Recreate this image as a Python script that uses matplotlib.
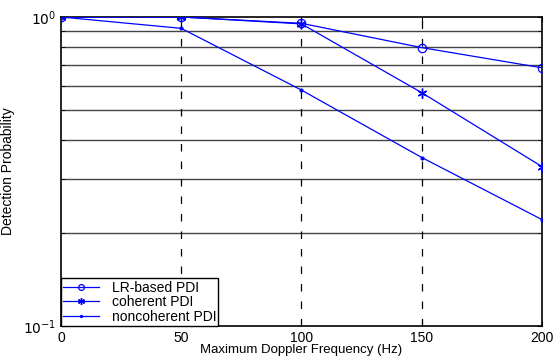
import matplotlib.pyplot as plt
import numpy as np

doppler = [0, 50, 100, 150, 200]
lr_pdi = [1.0, 1.0, 0.954, 0.796, 0.685]
coherent_pdi = [1.0, 1.0, 0.950, 0.569, 0.328]
noncoherent_pdi = [1.0, 0.919, 0.580, 0.351, 0.221]

plt.rcParams['font.family'] = ['Liberation Sans', 'DejaVu Sans']
plt.rcParams['font.size'] = 9

fig = plt.figure(figsize=(5.56, 3.58), dpi=100)
ax = fig.add_axes([0.1097, 0.0894, 0.8651, 0.8631])

# grid: solid horizontal lines at minor decades, dashed verticals
for v in np.arange(0.2, 1.0, 0.1):
    ax.axhline(v, color='#444444', lw=1.0, zorder=1)
for xv in [50, 100, 150]:
    ax.axvline(xv, color='black', lw=0.9, ls=(0, (6, 8)), zorder=1)

asterisk = (6, 2, 0)
ax.plot(doppler, lr_pdi, color='blue', lw=0.9, marker='o', ms=6,
        mfc='none', mew=0.9, label='LR-based PDI', zorder=3)
ax.plot(doppler, coherent_pdi, color='blue', lw=0.9, marker=asterisk, ms=7,
        mew=1.0, label='coherent PDI', zorder=3)
ax.plot(doppler, noncoherent_pdi, color='blue', lw=0.9, marker='.', ms=4,
        label='noncoherent PDI', zorder=3)

ax.set_yscale('log')
ax.set_xlim(0, 200)
ax.set_ylim(0.1, 1.0)
ax.set_xticks([0, 50, 100, 150, 200])
ax.set_yticks([0.1, 1.0])
ax.set_yticklabels(['$10^{-1}$', '$10^{0}$'])
ax.tick_params(which='both', direction='in', top=True, right=True, labelsize=10)
ax.tick_params(which='minor', labelleft=False, length=3)
for s in ax.spines.values():
    s.set_linewidth(1.2)

ax.set_xlabel('Maximum Doppler Frequency (Hz)', fontsize=9.5)
ax.xaxis.set_label_coords(0.5, -0.058)
ax.set_ylabel('Detection Probability', fontsize=10)
ax.yaxis.set_label_coords(-0.095, 0.5)

leg = ax.legend(loc='lower left', borderaxespad=0, fancybox=False,
                framealpha=1, edgecolor='black', handlelength=2.6,
                handletextpad=0.9, labelspacing=0.05, borderpad=0.15,
                fontsize=10, markerscale=0.7)
leg.get_frame().set_linewidth(1.0)

fig.savefig('out.png', dpi=100)
